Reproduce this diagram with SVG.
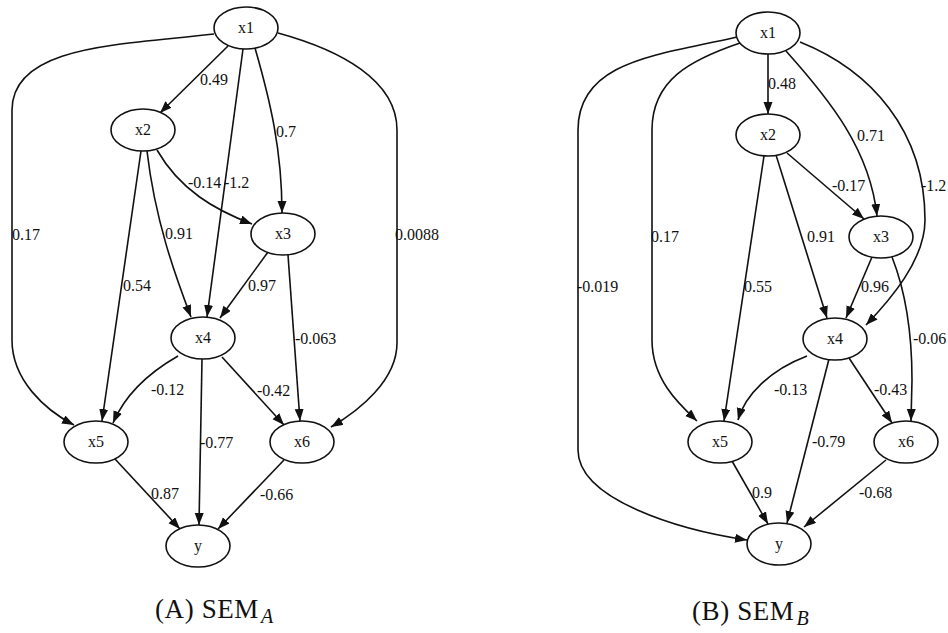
<svg xmlns="http://www.w3.org/2000/svg" width="948" height="633" viewBox="0 0 948 633">
<defs>
<marker id="ah" markerUnits="userSpaceOnUse" markerWidth="13" markerHeight="10" refX="12" refY="4.5" orient="auto">
<path d="M0,0 L12,4.5 L0,9 z" fill="#111"/>
</marker>
<style>
.n ellipse{fill:#fff;stroke:#111;stroke-width:1.6}
.n text{font-family:"Liberation Serif",serif;font-size:16px;text-anchor:middle;fill:#111}
.e path{fill:none;stroke:#111;stroke-width:1.6;marker-end:url(#ah)}
.l{font-family:"Liberation Serif",serif;font-size:16px;fill:#111}
.cap{font-family:"Liberation Serif",serif;font-size:27px;fill:#111}
</style>
</defs>
<rect width="948" height="633" fill="#fff"/>

<g id="edgesA" class="e">
<path d="M228,46 L160,113"/>
<path d="M243,49 L207,317"/>
<path d="M255,48 C270,100 282,150 282,213"/>
<path d="M214,34 C120,45 12,45 12,110 L12,340 C12,380 45,410 74,425"/>
<path d="M278,33 C340,50 397,80 397,130 L397,343 C397,380 360,410 331,427"/>
<path d="M157,150 C180,190 215,210 252,224"/>
<path d="M147,151 C155,220 175,275 191,317"/>
<path d="M141,151 L102,421"/>
<path d="M268,252 L220,318"/>
<path d="M288,255 L300,421"/>
<path d="M178,356 C150,372 125,395 113,423"/>
<path d="M202,359 L199,525"/>
<path d="M222,357 L284,425"/>
<path d="M115,459 L180,529"/>
<path d="M284,460 L218,529"/>
</g>
<g id="labelsA">
<text class="l" x="200" y="85">0.49</text>
<text class="l" x="224" y="188">-1.2</text>
<text class="l" x="276" y="137">0.7</text>
<text class="l" x="12" y="240">0.17</text>
<text class="l" x="395" y="240">0.0088</text>
<text class="l" x="188" y="188">-0.14</text>
<text class="l" x="165" y="239">0.91</text>
<text class="l" x="123" y="291">0.54</text>
<text class="l" x="248" y="291">0.97</text>
<text class="l" x="295" y="344">-0.063</text>
<text class="l" x="151" y="395">-0.12</text>
<text class="l" x="200" y="448">-0.77</text>
<text class="l" x="257" y="396">-0.42</text>
<text class="l" x="151" y="499">0.87</text>
<text class="l" x="260" y="500">-0.66</text>
</g>

<g id="A_x1" class="n"><ellipse cx="246" cy="28" rx="32" ry="21"/><text x="246" y="33">x1</text></g>
<g id="A_x2" class="n"><ellipse cx="143" cy="130" rx="32" ry="21"/><text x="143" y="135">x2</text></g>
<g id="A_x3" class="n"><ellipse cx="283" cy="234" rx="32" ry="21"/><text x="283" y="239">x3</text></g>
<g id="A_x4" class="n"><ellipse cx="203" cy="338" rx="32" ry="21"/><text x="203" y="343">x4</text></g>
<g id="A_x5" class="n"><ellipse cx="96" cy="442" rx="32" ry="21"/><text x="96" y="447">x5</text></g>
<g id="A_x6" class="n"><ellipse cx="302" cy="442" rx="32" ry="21"/><text x="302" y="447">x6</text></g>
<g id="A_y" class="n"><ellipse cx="198" cy="546" rx="32" ry="21"/><text x="198" y="551">y</text></g>

<g id="edgesB" class="e">
<path d="M768,54 L768,114"/>
<path d="M786,51 C830,100 870,150 877,216"/>
<path d="M800,42 C870,70 925,130 925,220 C925,260 890,300 866,325"/>
<path d="M740,43 C690,60 652,80 652,130 L652,340 C652,380 680,405 697,421"/>
<path d="M737,37 C660,55 578,60 578,130 L578,450 C578,500 680,530 747,540"/>
<path d="M787,153 L864,219"/>
<path d="M776,155 L827,318"/>
<path d="M764,156 L724,421"/>
<path d="M872,257 L846,318"/>
<path d="M892,257 C905,290 912,330 912,380 L911,421"/>
<path d="M807,356 C770,370 745,395 738,420"/>
<path d="M829,359 L787,523"/>
<path d="M849,358 L892,423"/>
<path d="M732,461 L768,524"/>
<path d="M886,460 L804,527"/>
</g>
<g id="labelsB">
<text class="l" x="768" y="89">0.48</text>
<text class="l" x="857" y="141">0.71</text>
<text class="l" x="921" y="191">-1.2</text>
<text class="l" x="651" y="242">0.17</text>
<text class="l" x="577" y="292">-0.019</text>
<text class="l" x="832" y="191">-0.17</text>
<text class="l" x="807" y="242">0.91</text>
<text class="l" x="744" y="292">0.55</text>
<text class="l" x="861" y="292">0.96</text>
<text class="l" x="913" y="344">-0.06</text>
<text class="l" x="774" y="395">-0.13</text>
<text class="l" x="812" y="447">-0.79</text>
<text class="l" x="874" y="395">-0.43</text>
<text class="l" x="752" y="498">0.9</text>
<text class="l" x="859" y="498">-0.68</text>
</g>

<g id="B_x1" class="n"><ellipse cx="768" cy="33" rx="32" ry="21"/><text x="768" y="38">x1</text></g>
<g id="B_x2" class="n"><ellipse cx="768" cy="135" rx="32" ry="21"/><text x="768" y="140">x2</text></g>
<g id="B_x3" class="n"><ellipse cx="881" cy="237" rx="32" ry="21"/><text x="881" y="242">x3</text></g>
<g id="B_x4" class="n"><ellipse cx="835" cy="339" rx="32" ry="21"/><text x="835" y="344">x4</text></g>
<g id="B_x5" class="n"><ellipse cx="720" cy="442" rx="32" ry="21"/><text x="720" y="447">x5</text></g>
<g id="B_x6" class="n"><ellipse cx="906" cy="442" rx="32" ry="21"/><text x="906" y="447">x6</text></g>
<g id="B_y" class="n"><ellipse cx="779" cy="544" rx="32" ry="21"/><text x="779" y="549">y</text></g>

<text class="cap" x="155" y="618" letter-spacing="0.6">(A) SEM<tspan font-size="20" font-style="italic" dx="2" dy="5">A</tspan></text>
<text class="cap" x="692" y="620" letter-spacing="0.6">(B) SEM<tspan font-size="20" font-style="italic" dx="2" dy="5">B</tspan></text>
</svg>
